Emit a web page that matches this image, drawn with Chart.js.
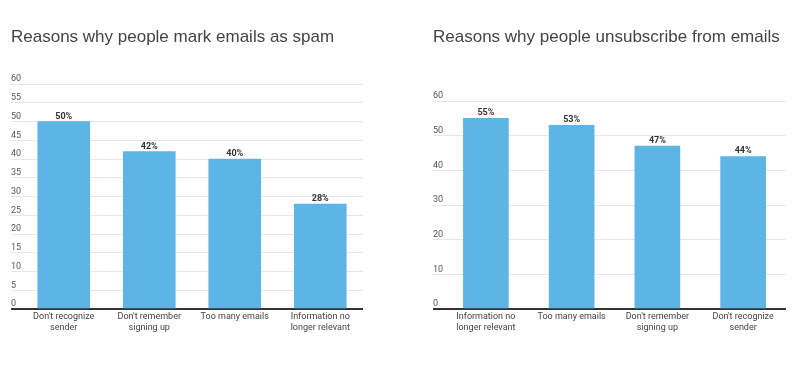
<!DOCTYPE html>
<html>
<head>
<meta charset="utf-8">
<script src="https://cdn.jsdelivr.net/npm/chart.js@4"></script>
<style>
  html, body { margin: 0; padding: 0; background: #ffffff; }
  #wrap { display: flex; width: 800px; height: 373px; }
  canvas { display: block; }
</style>
</head>
<body>
<div id="wrap">
  <canvas id="spam" width="400" height="373"></canvas>
  <canvas id="unsub" width="400" height="373"></canvas>
</div>
<script>
// ---- Data ----
const spamTitle = 'Reasons why people mark emails as spam';
const spamCategories = [
  ["Don't recognize", 'sender'],
  ["Don't remember", 'signing up'],
  ['Too many emails'],
  ['Information no', 'longer relevant']
];
const spamValues = [50, 42, 40, 28];
const spamTicks = [0, 5, 10, 15, 20, 25, 30, 35, 40, 45, 50, 55, 60];

const unsubTitle = 'Reasons why people unsubscribe from emails';
const unsubCategories = [
  ['Information no', 'longer relevant'],
  ['Too many emails'],
  ["Don't remember", 'signing up'],
  ["Don't recognize", 'sender']
];
const unsubValues = [55, 53, 47, 44];
const unsubTicks = [0, 10, 20, 30, 40, 50, 60];

// ---- Value labels plugin ----
const valueLabels = {
  id: 'valueLabels',
  afterDatasetsDraw(chart) {
    const ctx = chart.ctx;
    const meta = chart.getDatasetMeta(0);
    const data = chart.data.datasets[0].data;
    ctx.save();
    ctx.font = 'bold 9px Roboto';
    ctx.fillStyle = '#333333';
    ctx.textAlign = 'center';
    ctx.textBaseline = 'alphabetic';
    meta.data.forEach((bar, i) => {
      ctx.fillText(data[i] + '%', bar.x, bar.y - 3);
    });
    ctx.restore();
  }
};

function makeChart(id, title, cats, vals, ticks, opts) {
  return new Chart(document.getElementById(id), {
    type: 'bar',
    data: {
      labels: cats,
      datasets: [{
        data: vals,
        backgroundColor: '#5db5e5',
        borderWidth: 0,
        barThickness: opts.barThickness
      }]
    },
    plugins: [valueLabels],
    options: {
      responsive: false,
      animation: false,
      events: [],
      layout: { padding: { left: opts.padLeft, right: opts.padRight, top: 0, bottom: 37.5 } },
      plugins: {
        legend: { display: false },
        tooltip: { enabled: false },
        title: {
          display: true,
          text: title,
          align: 'start',
          color: '#444444',
          font: { family: 'Liberation Sans', size: 17, weight: 'normal', lineHeight: 1.2 },
          padding: { top: 27, bottom: opts.titleBottom }
        }
      },
      scales: {
        x: {
          grid: { display: false, drawTicks: false },
          border: { display: false },
          ticks: {
            color: '#444444',
            font: { family: 'Roboto', size: 9, lineHeight: 1.25 },
            padding: 2,
            maxRotation: 0,
            autoSkip: false
          }
        },
        y: {
          min: ticks[0],
          max: ticks[ticks.length - 1],
          afterBuildTicks(scale) {
            scale.ticks = ticks.map(v => ({ value: v }));
          },
          afterFit(scale) {
            scale.width = 10;
          },
          border: { display: false },
          grid: {
            drawTicks: true,
            tickLength: 10,
            color: (c) => (c.tick && c.tick.value === 0) ? '#333333' : '#e6e6e6',
            lineWidth: (c) => (c.tick && c.tick.value === 0) ? 2 : 1
          },
          ticks: {
            mirror: true,
            padding: -10,
            labelOffset: -5,
            color: '#555555',
            font: { family: 'Roboto', size: 9 }
          }
        }
      }
    }
  });
}

makeChart('spam', spamTitle, spamCategories, spamValues, spamTicks,
  { padLeft: 11, padRight: 37, titleBottom: 36.6, barThickness: 52 });
makeChart('unsub', unsubTitle, unsubCategories, unsubValues, unsubTicks,
  { padLeft: 33, padRight: 14, titleBottom: 53.6, barThickness: 45 });
</script>
</body>
</html>
